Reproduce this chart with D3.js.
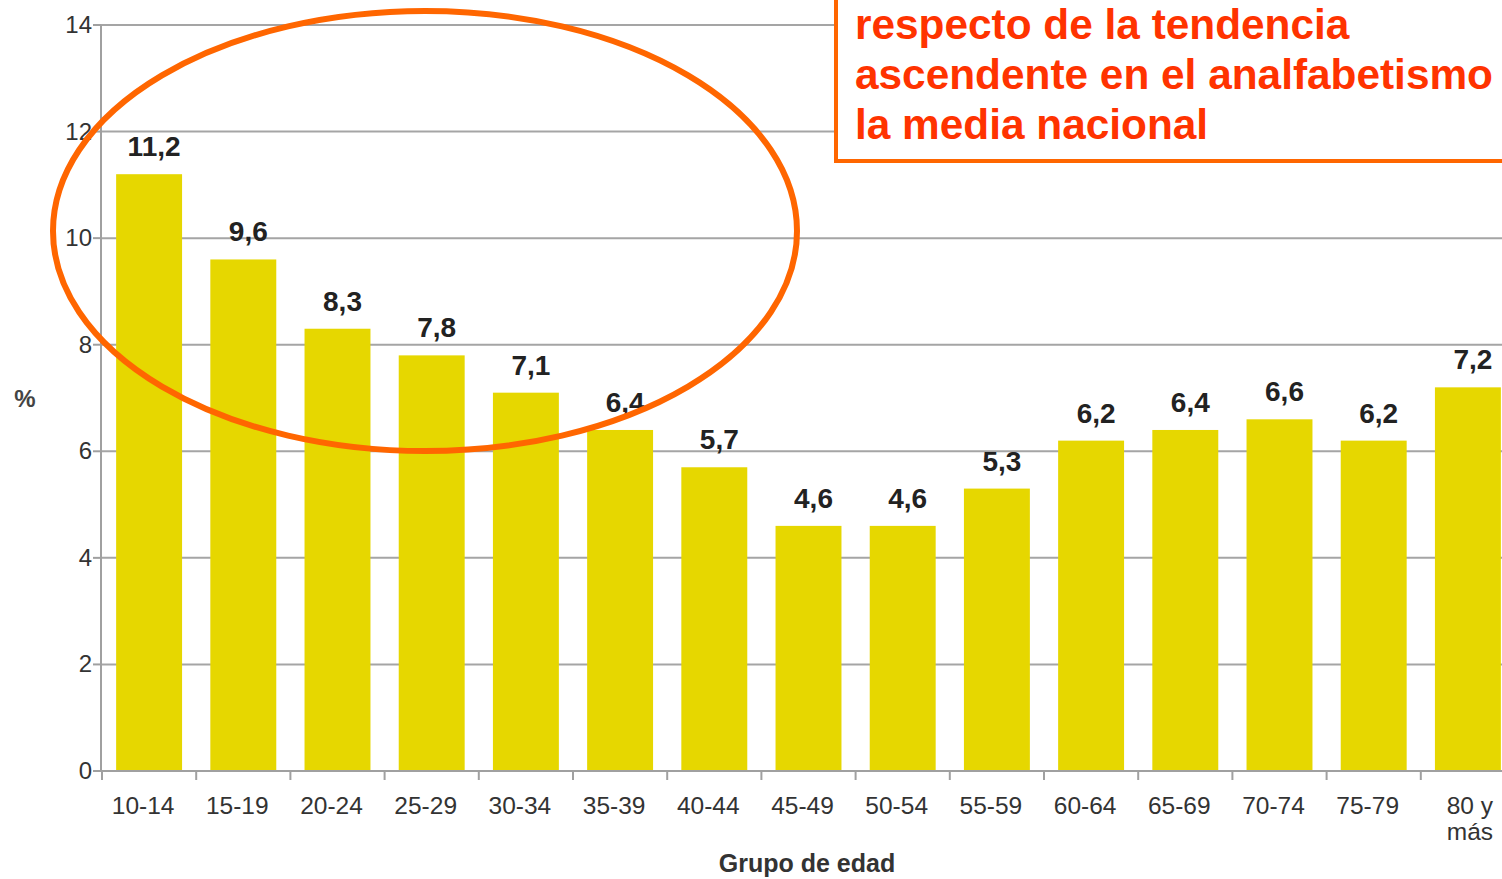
<!DOCTYPE html>
<html><head><meta charset="utf-8">
<script src="https://cdn.jsdelivr.net/npm/d3@7"></script>
<style>
html,body{margin:0;padding:0;background:#fff;overflow:hidden;}
svg{display:block;font-family:"Liberation Sans",Arial,Helvetica,sans-serif;}
</style></head>
<body>
<svg id="c" width="1502" height="879"></svg>
<script>
const categories = ["10-14","15-19","20-24","25-29","30-34","35-39","40-44","45-49","50-54","55-59","60-64","65-69","70-74","75-79","80 y|más"];
const values = [11.2, 9.6, 8.3, 7.8, 7.1, 6.4, 5.7, 4.6, 4.6, 5.3, 6.2, 6.4, 6.6, 6.2, 7.2];
const valueLabels = ["11,2","9,6","8,3","7,8","7,1","6,4","5,7","4,6","4,6","5,3","6,2","6,4","6,6","6,2","7,2"];
const yTicks = [0, 2, 4, 6, 8, 10, 12, 14];
const noteLines = ["respecto de la tendencia", "ascendente en el analfabetismo", "la media nacional"];
const xTitle = "Grupo de edad";
const yTitle = "%";

const svg = d3.select("#c");
const mLeft = 101, mBottom = 771, mTop = 25;
const y = d3.scaleLinear().domain([0, 14]).range([mBottom, mTop]);
const x = d3.scaleBand().domain(categories).range([102, 102 + 15 * 94.2]).paddingInner(0.3).paddingOuter(0.15);
const step = x.step();

// gridlines
svg.append("g").selectAll("line").data(yTicks.filter(d => d > 0)).join("line")
  .attr("x1", mLeft).attr("x2", 1502).attr("y1", d => y(d)).attr("y2", d => y(d))
  .attr("stroke", "#a5a5a5").attr("stroke-width", 2);

// bars
svg.append("g").selectAll("rect").data(categories).join("rect")
  .attr("x", d => x(d)).attr("width", x.bandwidth())
  .attr("y", (d, i) => y(values[i])).attr("height", (d, i) => y(0) - y(values[i]))
  .attr("fill", "#e6d700");

// axes
svg.append("line").attr("x1", mLeft).attr("x2", mLeft).attr("y1", y(14)).attr("y2", y(0))
  .attr("stroke", "#a0a0a0").attr("stroke-width", 2);
svg.append("line").attr("x1", mLeft).attr("x2", 1502).attr("y1", y(0)).attr("y2", y(0))
  .attr("stroke", "#a0a0a0").attr("stroke-width", 2);
svg.append("g").selectAll("line").data(yTicks).join("line")
  .attr("x1", mLeft - 8).attr("x2", mLeft).attr("y1", d => y(d)).attr("y2", d => y(d))
  .attr("stroke", "#a0a0a0").attr("stroke-width", 2);
svg.append("g").selectAll("text").data(yTicks).join("text")
  .attr("x", 92).attr("y", d => y(d) + 8).attr("text-anchor", "end")
  .attr("font-size", 24).attr("fill", "#333").text(d => d);

// x ticks at band boundaries
svg.append("g").selectAll("line").data(categories).join("line")
  .attr("x1", d => x(d) - step * 0.15).attr("x2", d => x(d) - step * 0.15)
  .attr("y1", y(0)).attr("y2", y(0) + 9)
  .attr("stroke", "#a0a0a0").attr("stroke-width", 2);

// x labels
const xl = svg.append("g").selectAll("text").data(categories).join("text")
  .attr("y", 814).attr("text-anchor", "middle").attr("font-size", 24.5).attr("fill", "#333");
xl.each(function(d) {
  const parts = d.split("|");
  const t = d3.select(this);
  parts.forEach((p, i) => {
    t.append("tspan").attr("x", x(d) + x.bandwidth() / 2 + (parts.length > 1 ? 2 : -6))
      .attr("dy", i === 0 ? 0 : 26).text(p);
  });
});

// value labels
svg.append("g").selectAll("text").data(categories).join("text")
  .attr("x", d => x(d) + x.bandwidth() / 2 + 5).attr("y", (d, i) => y(values[i]) - 18)
  .attr("text-anchor", "middle").attr("font-size", 28).attr("font-weight", "bold").attr("fill", "#222")
  .text((d, i) => valueLabels[i]);

// axis titles
svg.append("text").attr("x", 807).attr("y", 872).attr("text-anchor", "middle")
  .attr("font-size", 25).attr("font-weight", "bold").attr("fill", "#333").text(xTitle);
svg.append("text").attr("x", 25).attr("y", 407).attr("text-anchor", "middle")
  .attr("font-size", 24).attr("font-weight", "bold").attr("fill", "#444").text(yTitle);

// orange ellipse annotation
svg.append("ellipse").attr("cx", 425).attr("cy", 231).attr("rx", 372).attr("ry", 220)
  .attr("fill", "none").attr("stroke", "#ff6600").attr("stroke-width", 6);

// note box
svg.append("rect").attr("x", 836).attr("y", -20).attr("width", 700).attr("height", 181)
  .attr("fill", "#fff").attr("stroke", "#ff6600").attr("stroke-width", 4);
const nt = svg.append("g").selectAll("text").data(noteLines).join("text")
  .attr("x", 855).attr("y", (d, i) => 39 + i * 50)
  .attr("font-size", 40).attr("font-weight", "bold").attr("fill", "#ff3300").text(d => d);
const w = nt.nodes()[1].getComputedTextLength();
nt.attr("font-size", 40 * 638 / w);
</script>
</body></html>
